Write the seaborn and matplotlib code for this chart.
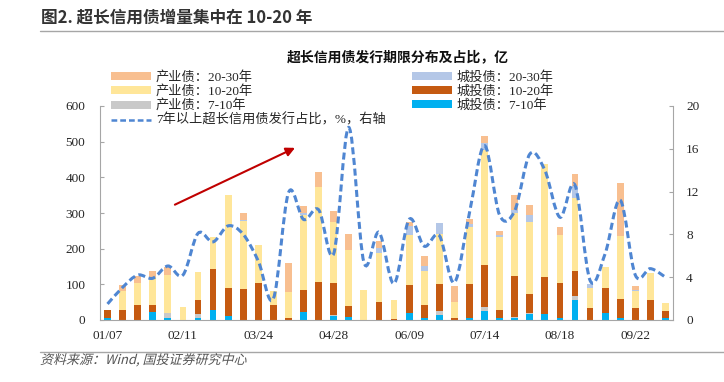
import numpy as np
import pandas as pd
import seaborn as sns
import matplotlib
matplotlib.use("Agg")
from matplotlib import pyplot as plt
from matplotlib.path import Path
from matplotlib.patches import PathPatch, Patch
from matplotlib.lines import Line2D
from matplotlib.textpath import TextPath
from matplotlib.font_manager import FontProperties
from matplotlib.transforms import Affine2D

# weekly issuance, 亿
ct_7_10 = [5, 0, 0, 22, 5, 0, 7, 28, 12, 0, 0, 0, 0, 22, 0, 12, 8, 0, 0, 0,
           19, 6, 15, 0, 7, 24, 6, 6, 17, 16, 6, 55, 0, 21, 7, 0, 0, 7]
cy_7_10 = [0, 0, 0, 0, 16, 0, 11, 0, 0, 0, 0, 0, 0, 0, 0, 3, 0, 0, 0, 0,
           0, 0, 9, 0, 0, 12, 0, 3, 2, 0, 0, 11, 0, 0, 0, 0, 0, 0]
ct_10_20 = [24, 29, 42, 20, 0, 0, 37, 116, 78, 86, 103, 43, 5, 63, 106, 88, 30, 0, 51, 4,
            78, 36, 76, 7, 93, 117, 22, 114, 54, 104, 97, 70, 33, 68, 52, 33, 56, 17]
cy_10_20 = [0, 53, 62, 78, 106, 36, 79, 88, 261, 192, 108, 39, 74, 209, 268, 173, 157, 85, 136, 52,
            142, 94, 141, 43, 162, 324, 204, 176, 201, 316, 136, 205, 57, 59, 177, 47, 75, 23]
ct_20_30 = [0, 0, 0, 0, 0, 0, 0, 0, 0, 3, 0, 0, 0, 6, 0, 0, 0, 0, 14, 0,
            25, 16, 31, 0, 7, 18, 5, 9, 19, 0, 0, 36, 11, 0, 0, 4, 0, 0]
cy_20_30 = [0, 17, 20, 17, 21, 0, 0, 0, 0, 19, 0, 0, 82, 21, 42, 31, 46, 0, 21, 0,
            12, 28, 0, 46, 14, 22, 13, 42, 30, 0, 21, 32, 0, 0, 147, 10, 0, 0]
# 7年以上超长信用债发行占比, %
share = [1.5, 3.05, 4.2, 3.9, 5.05, 4.2, 8.1, 7.3, 8.8, 8.0, 5.5, 2.0, 11.9, 9.4, 10.3, 6.2, 18.0, 5.4, 8.2, 3.4,
         9.4, 6.9, 7.9, 3.5, 10.0, 16.3, 9.8, 10.2, 15.5, 14.0, 9.6, 12.6, 3.7, 6.2, 11.2, 4.2, 4.8, 4.0]
tick_labels = ["01/07", "02/11", "03/24", "04/28", "06/09", "07/14", "08/18", "09/22"]

layers = [
    ("城投债：7-10年", ct_7_10, "#00B0F0"),
    ("产业债：7-10年", cy_7_10, "#C9C9C9"),
    ("城投债：10-20年", ct_10_20, "#C55A11"),
    ("产业债：10-20年", cy_10_20, "#FFE699"),
    ("城投债：20-30年", ct_20_30, "#B4C7E7"),
    ("产业债：20-30年", cy_20_30, "#F8BF90"),
]
line_color = "#4F86D2"

sns.set_style("white")
plt.rcParams["font.family"] = ["Liberation Serif", "Noto Sans CJK SC"]
cjk_bold = ["Noto Sans CJK SC", "DejaVu Sans"]

df = pd.DataFrame({name: vals for name, vals, _ in layers})
df["week"] = np.arange(len(share))

fig = plt.figure(figsize=(7.24, 3.82), dpi=100)
ax = fig.add_axes([100 / 724, 1 - 320 / 382, 573 / 724, 214 / 382])

# stacked bars: draw cumulative totals from the top layer down
cum = df[[n for n, _, _ in layers]].cumsum(axis=1)
for name, _, color in reversed(layers):
    sns.barplot(x=df["week"], y=cum[name], color=color, width=0.45,
                saturation=1, ax=ax, linewidth=0)

ax.set_xlim(-0.5, len(share) - 0.5)
ax.set_ylim(0, 600)
ax.set_yticks(range(0, 601, 100))
ax.set_xticks(range(0, len(share), 5))
ax.set_xticklabels(tick_labels)
ax.set_xticks(np.arange(-0.5, len(share), 1), minor=True)
ax.set_xlabel("")
ax.set_ylabel("")
ax.tick_params(axis="x", which="major", length=0, pad=7, labelsize=9.5)
ax.tick_params(axis="x", which="minor", length=3, direction="out", color="#A6A6A6")
ax.tick_params(axis="y", length=3, direction="in", color="#A6A6A6", labelsize=9.5, pad=10.5)
for s in ["left", "right", "bottom"]:
    ax.spines[s].set_color("#A6A6A6")
ax.spines["top"].set_visible(False)

# share line on right axis, smoothed like the Excel original
ax2 = ax.twinx()
ax2.set_ylim(0, 20)
ax2.set_yticks(range(0, 21, 4))
ax2.tick_params(axis="y", length=3, direction="in", color="#A6A6A6", labelsize=9.5, pad=9.5)
for s in ax2.spines.values():
    s.set_visible(False)
x = np.arange(len(share), dtype=float)
y = np.array(share)
verts = [(x[0], y[0])]
codes = [Path.MOVETO]
for i in range(len(x) - 1):
    p0 = (x[max(i - 1, 0)], y[max(i - 1, 0)])
    p1 = (x[i], y[i])
    p2 = (x[i + 1], y[i + 1])
    p3 = (x[min(i + 2, len(x) - 1)], y[min(i + 2, len(x) - 1)])
    c1 = (p1[0] + (p2[0] - p0[0]) / 6, p1[1] + (p2[1] - p0[1]) / 6)
    c2 = (p2[0] - (p3[0] - p1[0]) / 6, p2[1] - (p3[1] - p1[1]) / 6)
    verts += [c1, c2, p2]
    codes += [Path.CURVE4] * 3
ax2.add_patch(PathPatch(Path(verts, codes), fill=False, edgecolor=line_color,
                        lw=2.2, linestyle=(0, (2.3, 1.2)), capstyle="butt"))

ax.annotate("", xy=(12.6, 486), xytext=(4.3, 320),
            arrowprops=dict(arrowstyle="-|>", color="#C00000", lw=1.5, mutation_scale=13))

# legend
handles = {name: Patch(facecolor=color, edgecolor="none") for name, _, color in layers}
line_h = Line2D([0], [0], color=line_color, lw=1.8, linestyle=(0, (2.3, 1.2)))
order = ["产业债：20-30年", "产业债：10-20年", "产业债：7-10年"]
order2 = ["城投债：20-30年", "城投债：10-20年", "城投债：7-10年"]
hs = [handles[n] for n in order] + [line_h] + [handles[n] for n in order2]
ls = order + ["7年以上超长信用债发行占比，%，右轴"] + order2
ax2.legend(hs, ls, loc="upper left", bbox_to_anchor=(111 / 724, 1 - 71 / 382),
           bbox_transform=fig.transFigure, ncol=2, frameon=False, fontsize=9.5,
           handlelength=3.0, handleheight=0.55, handletextpad=0.4, labelspacing=0.1,
           columnspacing=2.0, borderpad=0, borderaxespad=0)

# titles, rules, source
fig.text(41 / 724, 1 - 18 / 382, "图2. 超长信用债增量集中在 10-20 年", family=cjk_bold,
         fontsize=12, fontweight="bold", color="#333333", va="center", ha="left")
fig.add_artist(Line2D([40 / 724, 1], [1 - 31 / 382] * 2, color="#A6A6A6", lw=1))
fig.text(398 / 724, 1 - 57 / 382, "超长信用债发行期限分布及占比，亿", family=cjk_bold,
         fontsize=10, fontweight="bold", color="#111111", va="center", ha="center")
fig.add_artist(Line2D([40 / 724, 1], [1 - 352 / 382] * 2, color="#A6A6A6", lw=1))

# source note in slanted type (CJK font has no italic face, so shear the glyph outlines)
src = TextPath((0, 0), "资料来源：Wind, 国投证券研究中心", size=13,
               prop=FontProperties(family="Noto Sans CJK SC"))
fig.add_artist(PathPatch(src, facecolor="#555555", edgecolor="none",
                         transform=Affine2D().skew_deg(14, 0).translate(40, 382 - 364)))

fig.savefig("out.png", dpi=100)
